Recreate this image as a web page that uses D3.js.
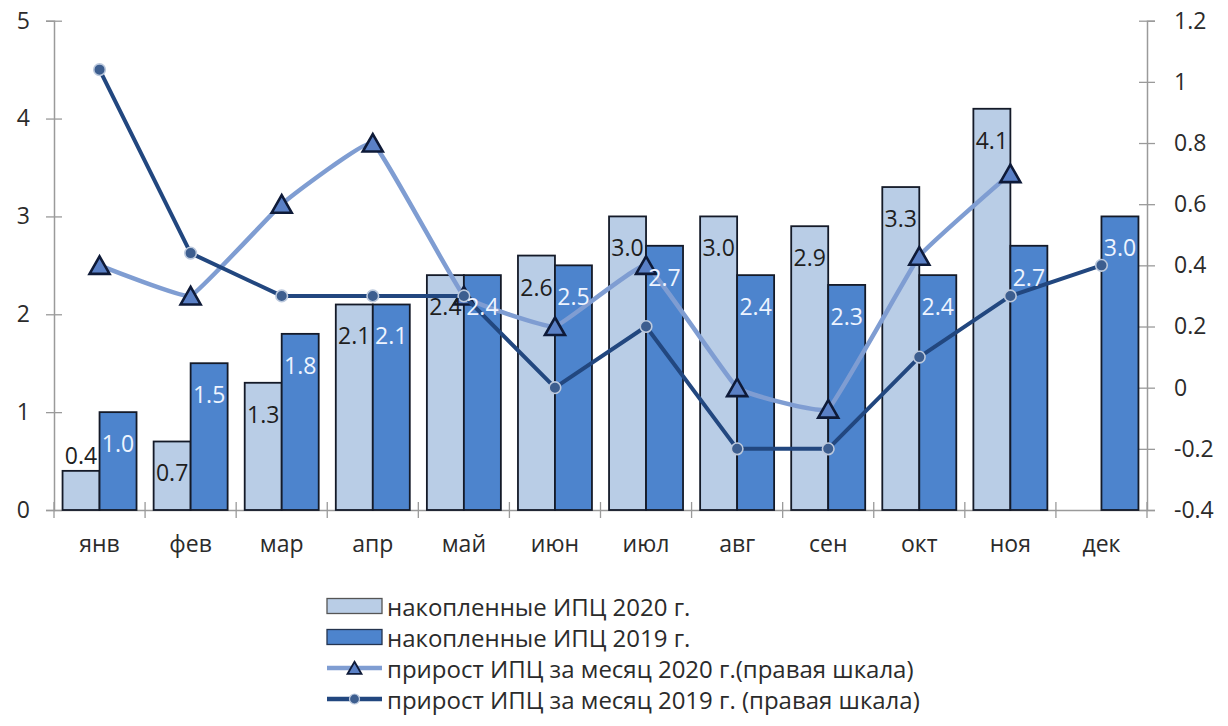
<!DOCTYPE html>
<html>
<head>
<meta charset="utf-8">
<script src="https://cdn.jsdelivr.net/npm/d3@7"></script>
<style>
  html, body { margin: 0; padding: 0; background: #fff; }
  svg { display: block; font-family: "Open Sans", "Noto Sans", sans-serif; }
</style>
</head>
<body>
<svg id="chart" width="1228" height="726"></svg>
<script>
// Months of the year
const months = ["янв", "фев", "мар", "апр", "май", "июн", "июл", "авг", "сен", "окт", "ноя", "дек"];
// Cumulative CPI since start of year, %
const cum2020 = [0.4, 0.7, 1.3, 2.1, 2.4, 2.6, 3.0, 3.0, 2.9, 3.3, 4.1, null];
const cum2019 = [1.0, 1.5, 1.8, 2.1, 2.4, 2.5, 2.7, 2.4, 2.3, 2.4, 2.7, 3.0];
// Month-on-month CPI growth, % (right scale)
const mom2020 = [0.4, 0.3, 0.6, 0.8, 0.3, 0.2, 0.4, 0.0, -0.07, 0.43, 0.7, null];
const mom2019 = [1.04, 0.44, 0.3, 0.3, 0.3, 0.0, 0.2, -0.2, -0.2, 0.1, 0.3, 0.4];
// Axis ticks
const leftTicks = [0, 1, 2, 3, 4, 5];
const rightTicks = [-0.4, -0.2, 0, 0.2, 0.4, 0.6, 0.8, 1, 1.2];
// Legend entries
const legendLabels = [
  "накопленные ИПЦ 2020 г.",
  "накопленные ИПЦ 2019 г.",
  "прирост ИПЦ за месяц 2020 г.(правая шкала)",
  "прирост ИПЦ за месяц 2019 г. (правая шкала)"
];

const C = {
  bar20: "#b9cde6",
  bar19: "#4d84cd",
  barStroke: "#141a28",
  line20: "#7f9dd2",
  tri: "#5a80c6",
  triStroke: "#0e1a38",
  line19: "#22477f",
  dot: "#3d5e8f",
  dotRing: "#bcc9dd",
  axis: "#9a9a9a",
  text: "#2b2b2b"
};

const svg = d3.select("#chart");
const plot = { left: 54, right: 1147, top: 20.7, bottom: 510 };

const x = d3.scaleBand().domain(months).range([plot.left, plot.right]).padding(0);
const sub = d3.scaleBand().domain(["2020", "2019"]).range([0, x.bandwidth()])
  .paddingInner(0).paddingOuter(0.231);
const yL = d3.scaleLinear().domain([0, 5]).range([plot.bottom, plot.top]);
const yR = d3.scaleLinear().domain([-0.4, 1.2]).range([plot.bottom, plot.top]);

// ---- Axes ----
const crossTicks = g => g.selectAll(".tick line").attr("x1", -8).attr("x2", 8);

const leftAxis = svg.append("g")
  .attr("transform", `translate(${plot.left},0)`)
  .call(d3.axisLeft(yL).tickValues(leftTicks).tickFormat(d3.format("d")).tickSize(8).tickPadding(16));
leftAxis.call(crossTicks);

const rightAxis = svg.append("g")
  .attr("transform", `translate(${plot.right},0)`)
  .call(d3.axisRight(yR).tickValues(rightTicks)
    .tickFormat(d => String(+d.toFixed(1)).replace("\u2212", "-")).tickSize(8).tickPadding(19));
rightAxis.call(crossTicks);

[leftAxis, rightAxis].forEach(a => {
  a.select(".domain").attr("stroke", C.axis).attr("stroke-width", 1.5);
  a.selectAll(".tick line").attr("stroke", C.axis).attr("stroke-width", 1.3);
  a.selectAll(".tick text").attr("fill", C.text).attr("font-size", 23)
    .attr("font-family", "'Open Sans', sans-serif");
});

// Category axis: labels at band centres, cross ticks on band boundaries
const bottomAxis = svg.append("g")
  .attr("transform", `translate(0,${plot.bottom})`)
  .call(d3.axisBottom(x).tickSize(0).tickPadding(26));
bottomAxis.select(".domain").attr("stroke", C.axis).attr("stroke-width", 1.5);
bottomAxis.selectAll(".tick text").attr("fill", C.text).attr("font-size", 23)
  .attr("font-family", "'Open Sans', sans-serif");
bottomAxis.selectAll("line.bound")
  .data(months.map(m => x(m)).concat([plot.right]))
  .join("line").attr("class", "bound")
  .attr("x1", d => d).attr("x2", d => d).attr("y1", -8).attr("y2", 8)
  .attr("stroke", C.axis).attr("stroke-width", 1.3);

// ---- Bars ----
const barData = [];
months.forEach((m, i) => {
  if (cum2020[i] != null) barData.push({ m, s: "2020", v: cum2020[i] });
  if (cum2019[i] != null) barData.push({ m, s: "2019", v: cum2019[i] });
});

svg.append("g").selectAll("rect")
  .data(barData).join("rect")
  .attr("x", d => x(d.m) + sub(d.s))
  .attr("y", d => yL(d.v))
  .attr("width", sub.bandwidth())
  .attr("height", d => yL(0) - yL(d.v))
  .attr("fill", d => d.s === "2020" ? C.bar20 : C.bar19)
  .attr("stroke", C.barStroke)
  .attr("stroke-width", 1.8);

// ---- Lines (right scale) ----
const cx = m => x(m) + x.bandwidth() / 2;

const pts20 = months.map((m, i) => ({ m, v: mom2020[i] })).filter(d => d.v != null);
const pts19 = months.map((m, i) => ({ m, v: mom2019[i] })).filter(d => d.v != null);

// 2020 line is lightly smoothed
svg.append("path")
  .datum(pts20)
  .attr("fill", "none")
  .attr("stroke", C.line20)
  .attr("stroke-width", 4.5)
  .attr("stroke-linejoin", "round")
  .attr("d", d3.line().x(d => cx(d.m)).y(d => yR(d.v)).curve(d3.curveCardinal.tension(0.75)));

const triPath = s => `M0,${-0.9 * s} L${s},${0.85 * s} L${-s},${0.85 * s} Z`;

svg.append("g").selectAll("path")
  .data(pts20).join("path")
  .attr("transform", d => `translate(${cx(d.m)},${yR(d.v)})`)
  .attr("d", triPath(10))
  .attr("fill", C.tri)
  .attr("stroke", C.triStroke)
  .attr("stroke-width", 2.6)
  .attr("stroke-linejoin", "miter");

svg.append("path")
  .datum(pts19)
  .attr("fill", "none")
  .attr("stroke", C.line19)
  .attr("stroke-width", 4)
  .attr("stroke-linejoin", "round")
  .attr("d", d3.line().x(d => cx(d.m)).y(d => yR(d.v)));

svg.append("g").selectAll("circle")
  .data(pts19).join("circle")
  .attr("cx", d => cx(d.m))
  .attr("cy", d => yR(d.v))
  .attr("r", 5.8)
  .attr("fill", C.dot)
  .attr("stroke", C.dotRing)
  .attr("stroke-width", 1.6);

// ---- Bar value labels ----
svg.append("g").selectAll("text")
  .data(barData).join("text")
  .attr("x", d => x(d.m) + sub(d.s) + sub.bandwidth() / 2)
  .attr("y", d => (yL(0) - yL(d.v) < 45) ? yL(d.v) - 16 : yL(d.v) + 31)
  .attr("text-anchor", "middle")
  .attr("dominant-baseline", "central")
  .attr("font-size", 23)
  .attr("fill", d => d.s === "2020" ? "#1e1e1e" : "#eef4ff")
  .text(d => d3.format(".1f")(d.v));

// ---- Legend ----
const leg = svg.append("g").attr("transform", "translate(327,0)");
const rowY = [606, 637, 668, 699];

leg.append("rect").attr("x", 0).attr("y", rowY[0] - 7.5).attr("width", 55).attr("height", 15)
  .attr("fill", C.bar20).attr("stroke", "#555").attr("stroke-width", 1.3);
leg.append("rect").attr("x", 0).attr("y", rowY[1] - 7.5).attr("width", 55).attr("height", 15)
  .attr("fill", C.bar19).attr("stroke", "#24344f").attr("stroke-width", 1.3);

leg.append("line").attr("x1", 0).attr("x2", 55).attr("y1", rowY[2]).attr("y2", rowY[2])
  .attr("stroke", C.line20).attr("stroke-width", 4.5);
leg.append("path").attr("transform", `translate(27.5,${rowY[2]})`).attr("d", triPath(7))
  .attr("fill", C.tri).attr("stroke", C.triStroke).attr("stroke-width", 1.8);

leg.append("line").attr("x1", 0).attr("x2", 55).attr("y1", rowY[3]).attr("y2", rowY[3])
  .attr("stroke", C.line19).attr("stroke-width", 4.5);
leg.append("circle").attr("cx", 27.5).attr("cy", rowY[3]).attr("r", 5)
  .attr("fill", C.dot).attr("stroke", C.dotRing).attr("stroke-width", 1.2);

leg.selectAll("text.lab")
  .data(legendLabels).join("text").attr("class", "lab")
  .attr("x", 60)
  .attr("y", (d, i) => rowY[i])
  .attr("dominant-baseline", "central")
  .attr("font-size", 24)
  .attr("fill", C.text)
  .text(d => d);
</script>
</body>
</html>
